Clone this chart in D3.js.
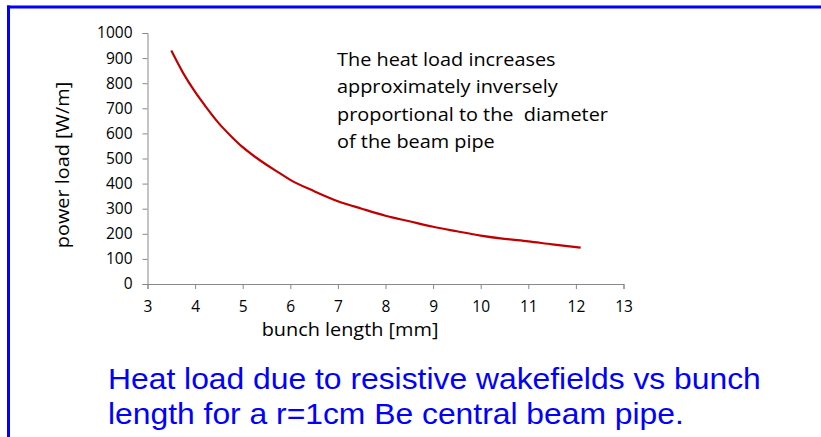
<!DOCTYPE html>
<html><head><meta charset="utf-8">
<script src="https://cdn.jsdelivr.net/npm/d3@7"></script>
<style>body{margin:0;background:#fff}svg{display:block}text{white-space:pre}</style>
</head><body>
<script>
const bunchLength = [3.5,3.75,4,4.25,4.5,4.75,5,5.25,5.5,5.75,6,6.5,7,7.5,8,8.5,9,9.5,10,10.5,11,11.5,12.1];
const powerLoad   = [930,840,765,700,640,590,545,508,475,445,415,370,330,300,272,250,228,210,193,180,170,158,145];
const xTicks = [3,4,5,6,7,8,9,10,11,12,13];
const yTicks = [0,100,200,300,400,500,600,700,800,900,1000];
const noteLines = ["The heat load increases","approximately inversely","proportional to the  diameter","of the beam pipe"];
const captionLines = ["Heat load due to resistive wakefields vs bunch","length for a r=1cm Be central beam pipe."];

const W=821,H=437;
const svg=d3.select("body").append("svg").attr("width",W).attr("height",H);
// border
svg.append("line").attr("x1",7).attr("x2",W).attr("y1",7).attr("y2",7).attr("stroke","#0000ff").attr("stroke-width",3);
svg.append("line").attr("x1",8.5).attr("x2",8.5).attr("y1",5.5).attr("y2",H).attr("stroke","#0000ff").attr("stroke-width",3);

const x=d3.scaleLinear().domain([3,13]).range([147.5,623.5]);
const y=d3.scaleLinear().domain([0,1000]).range([284,33]);
const font="'Open Sans', sans-serif";

const gx=svg.append("g").attr("transform","translate(0,284)")
  .call(d3.axisBottom(x).tickValues(xTicks).tickSize(5).tickPadding(12).tickFormat(d3.format("d")));
const gy=svg.append("g").attr("transform","translate(147.5,0)")
  .call(d3.axisLeft(y).tickValues(yTicks).tickSize(5).tickPadding(10).tickFormat(d3.format("d")));
[gx,gy].forEach(g=>{
  g.select(".domain").attr("stroke","#888");
  g.selectAll(".tick line").attr("stroke","#888");
  g.selectAll("text").attr("fill","#000").style("font-family",font).style("font-size","15.5px");
});

const line=d3.line().x((d,i)=>x(bunchLength[i])).y(d=>y(d)).curve(d3.curveMonotoneX);
svg.append("path").datum(powerLoad).attr("d",line).attr("fill","none").attr("stroke","#c00000").attr("stroke-width",2.2);

svg.append("text").attr("transform","translate(350,336) scale(1.075,1)").attr("text-anchor","middle")
  .style("font-family",font).style("font-size","18.5px").text("bunch length [mm]");
svg.append("text").attr("transform","translate(69,165) rotate(-90) scale(1.075,1)").attr("text-anchor","middle")
  .style("font-family",font).style("font-size","18.5px").text("power load [W/m]");

svg.append("g").attr("transform","translate(337,0) scale(1.075,1)").selectAll("text").data(noteLines).join("text")
  .attr("x",0).attr("y",(d,i)=>66+i*27.4)
  .style("font-family",font).style("font-size","18.5px").attr("fill","#000").text(d=>d);

svg.append("g").attr("transform","translate(108,0) scale(1.098,1)").selectAll("text").data(captionLines).join("text")
  .attr("x",0).attr("y",(d,i)=>389+i*35)
  .style("font-family","'Liberation Sans', Arial, sans-serif").style("font-size","29px").attr("fill","#0000ff").text(d=>d);
</script>
</body></html>
